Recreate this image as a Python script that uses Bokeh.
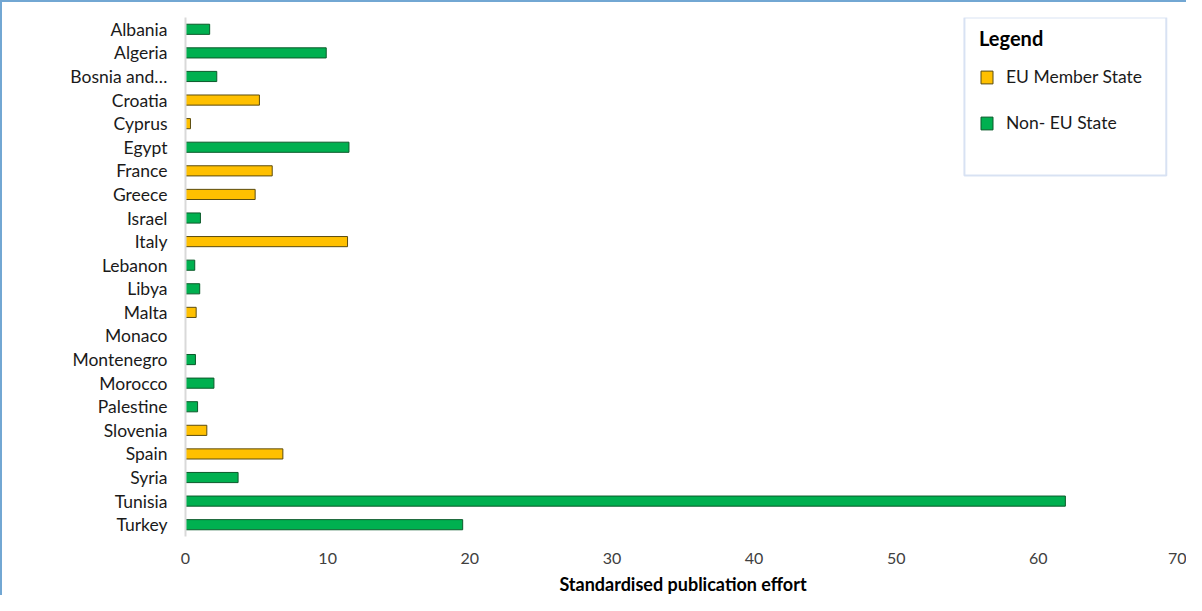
from bokeh.plotting import figure
from bokeh.models import ColumnDataSource, Legend, LegendItem, Range1d, FactorRange, BoxAnnotation
from bokeh.embed import file_html
from bokeh.resources import INLINE

countries = ["Albania", "Algeria", "Bosnia and…", "Croatia", "Cyprus", "Egypt", "France",
             "Greece", "Israel", "Italy", "Lebanon", "Libya", "Malta", "Monaco",
             "Montenegro", "Morocco", "Palestine", "Slovenia", "Spain", "Syria",
             "Tunisia", "Turkey"]
effort = [1.7, 9.9, 2.2, 5.2, 0.35, 11.5, 6.1, 4.9, 1.05, 11.4, 0.65, 1.0, 0.75, 0.0,
          0.7, 2.0, 0.85, 1.5, 6.85, 3.7, 61.9, 19.5]
status = ["Non-EU", "Non-EU", "Non-EU", "EU", "EU", "Non-EU", "EU", "EU", "Non-EU", "EU",
          "Non-EU", "Non-EU", "EU", "EU", "Non-EU", "Non-EU", "Non-EU", "EU", "EU",
          "Non-EU", "Non-EU", "Non-EU"]
x_ticks = [0, 10, 20, 30, 40, 50, 60, 70]

FONT = "Lato"
EU_COLOR = "#FFC000"
NON_COLOR = "#00B050"

eu = ColumnDataSource(dict(
    c=[c for c, s in zip(countries, status) if s == "EU"],
    v=[v for v, s in zip(effort, status) if s == "EU"]))
non = ColumnDataSource(dict(
    c=[c for c, s in zip(countries, status) if s != "EU"],
    v=[v for v, s in zip(effort, status) if s != "EU"]))

p = figure(width=1186, height=595, output_backend="svg", toolbar_location=None,
           y_range=FactorRange(*reversed(countries), range_padding=0),
           x_range=Range1d(0, 70),
           min_border_left=183, min_border_right=8, min_border_top=15, min_border_bottom=57,
           styles={"border-top": "2px solid #72a7d3", "border-left": "2px solid #72a7d3"})

r_eu = p.hbar(y="c", right="v", left=0, height=0.43, source=eu,
              fill_color=EU_COLOR, line_color="#5b4c10", line_width=1)
r_non = p.hbar(y="c", right="v", left=0, height=0.43, source=non,
               fill_color=NON_COLOR, line_color="#0b5a2a", line_width=1)

p.outline_line_color = None
p.xgrid.grid_line_color = None
p.ygrid.grid_line_color = None

p.xaxis.ticker = x_ticks
p.xaxis.axis_line_color = None
p.xaxis.major_tick_line_color = None
p.xaxis.minor_tick_line_color = None
p.xaxis.major_label_text_font = FONT
p.xaxis.major_label_text_font_size = "16px"
p.xaxis.major_label_text_color = "#404040"
p.xaxis.major_label_standoff = 10
p.xaxis.axis_label = "Standardised publication effort"
p.xaxis.axis_label_text_font = FONT
p.xaxis.axis_label_text_font_size = "18px"
p.xaxis.axis_label_text_font_style = "bold"
p.xaxis.axis_label_text_color = "#000000"
p.xaxis.axis_label_standoff = 6

p.yaxis.axis_line_color = "#d9d9d9"
p.yaxis.axis_line_width = 2
p.yaxis.major_tick_line_color = None
p.yaxis.minor_tick_line_color = None
p.yaxis.major_label_text_font = FONT
p.yaxis.major_label_text_font_size = "17.5px"
p.yaxis.major_label_text_color = "#1a1a1a"
p.yaxis.major_label_standoff = 12

# legend frame
frame_box = BoxAnnotation(left=54.8, right=69.0, top=22, bottom=15.3,
                          fill_color="white", fill_alpha=1,
                          line_color="#7f9fd6", line_width=2, level="annotation")
p.add_layout(frame_box)

legend = Legend(items=[LegendItem(label="EU Member State", renderers=[r_eu]),
                       LegendItem(label="Non- EU State", renderers=[r_non])],
                location=(794, 403), title="Legend",
                title_text_font=FONT, title_text_font_size="20px", title_text_font_style="bold",
                title_text_color="#000000", title_standoff=16,
                label_text_font=FONT, label_text_font_size="17.5px", label_text_color="#1a1a1a",
                glyph_width=15, glyph_height=16, label_standoff=12,
                spacing=25, padding=10,
                border_line_color=None,
                background_fill_alpha=0)
p.add_layout(legend, "center")

open("out.html", "w").write(file_html(p, INLINE))
